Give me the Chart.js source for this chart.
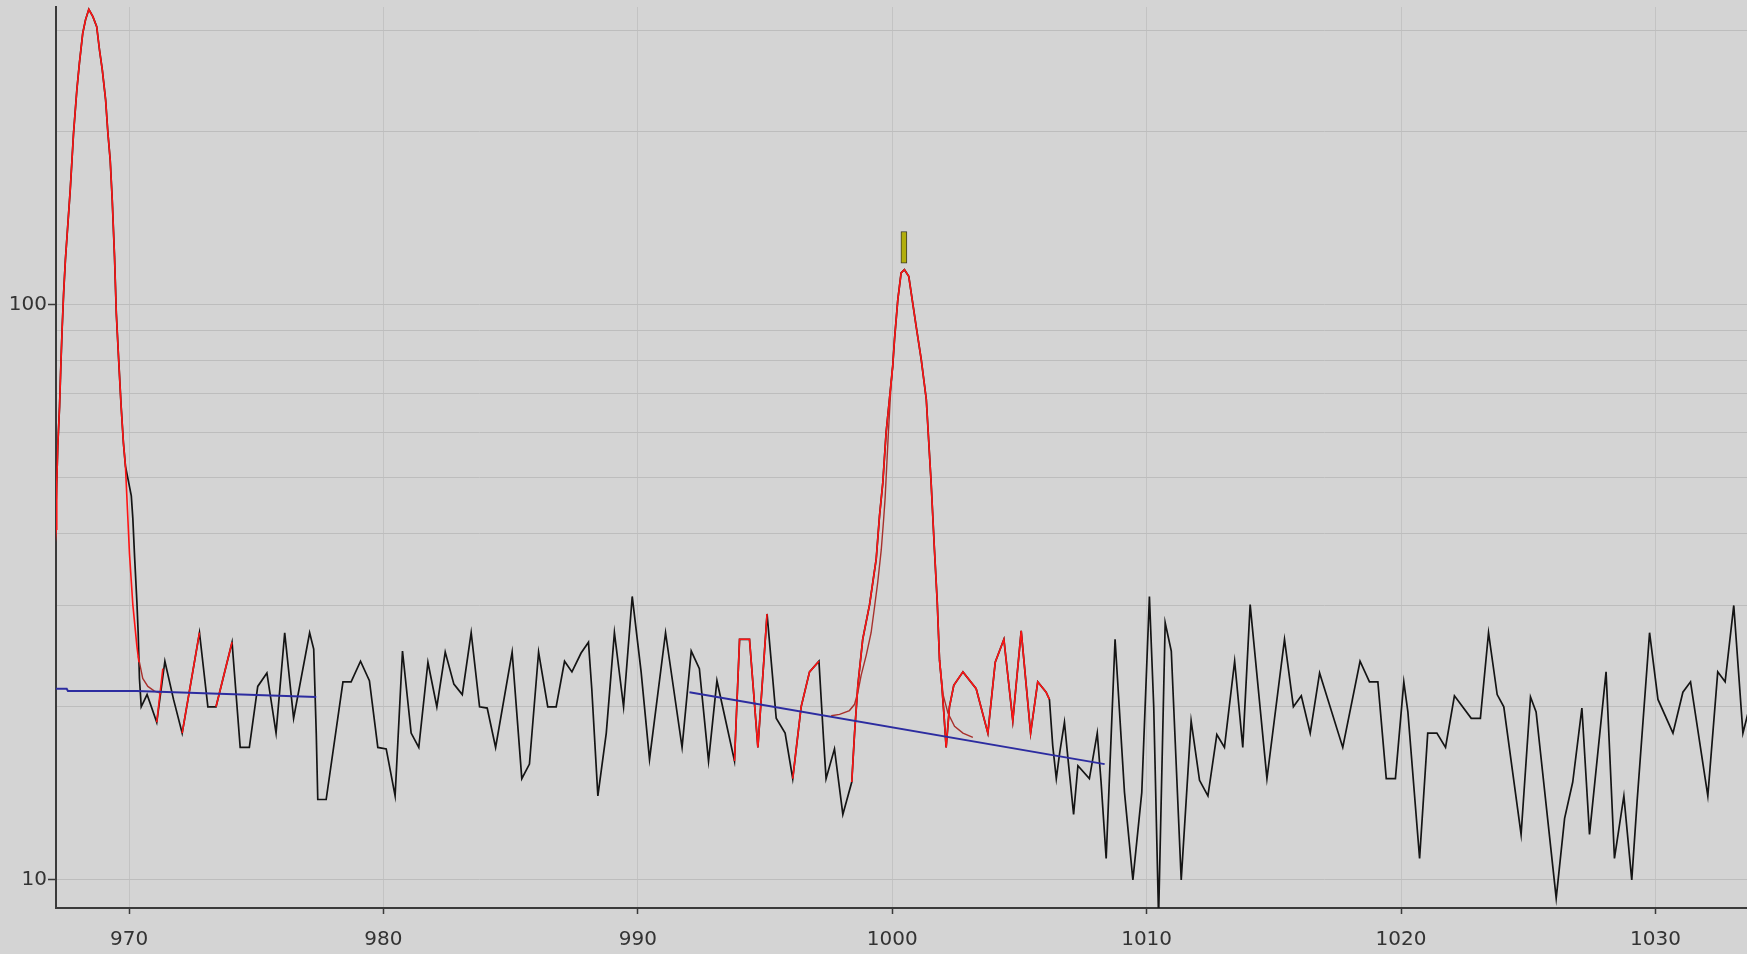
<!DOCTYPE html>
<html>
<head>
<meta charset="utf-8">
<title>Spectrum</title>
<script src="https://cdn.jsdelivr.net/npm/chart.js@4.4.1/dist/chart.umd.min.js"></script>
<style>
  html, body { margin: 0; padding: 0; background: #d4d4d4; }
  #wrap { width: 1747px; height: 954px; }
</style>
</head>
<body>
<div id="wrap"><canvas id="spectrumChart"></canvas></div>
<script>
// Axis range and ticks
const xMin = 967.13;
const xMax = 1033.6;
const yMin = 8.94;
const yMax = 329;
const yGridValues = [10, 20, 30, 40, 50, 60, 70, 80, 90, 100, 200, 300];
const yLabelValues = [10, 100];

// Raw signal (black)
const signalX = [
  967.00, 967.14, 967.20, 967.27, 967.32, 967.37, 967.43, 967.50, 967.59, 967.69,
  967.82, 967.95, 968.05, 968.18, 968.29, 968.42, 968.58, 968.73, 968.84, 968.95,
  969.08, 969.17, 969.26, 969.34, 969.43, 969.50, 969.60, 969.69, 969.78, 969.86,
  970.09, 970.15, 970.22, 970.31, 970.36, 970.41, 970.48, 970.71, 971.09, 971.41,
  971.75, 972.09, 972.77, 973.10, 973.42, 974.05, 974.37, 974.73, 975.06, 975.42,
  975.78, 976.12, 976.47, 977.10, 977.26, 977.36, 977.42, 977.75, 978.41, 978.73,
  979.10, 979.45, 979.78, 980.11, 980.46, 980.75, 981.09, 981.39, 981.75, 982.10,
  982.43, 982.77, 983.10, 983.45, 983.78, 984.08, 984.41, 985.06, 985.44, 985.74,
  986.10, 986.46, 986.79, 987.12, 987.41, 987.77, 988.06, 988.19, 988.43, 988.76,
  989.08, 989.44, 989.78, 990.13, 990.46, 991.09, 991.74, 992.10, 992.42, 992.78,
  993.11, 993.80, 994.00, 994.39, 994.72, 995.08, 995.44, 995.79, 996.09, 996.42,
  996.75, 997.12, 997.30, 997.40, 997.73, 998.06, 998.41, 998.52, 998.65, 998.84,
  999.11, 999.37, 999.50, 999.63, 999.76, 999.89, 1000.02, 1000.09, 1000.22, 1000.35,
  1000.48, 1000.65, 1000.94, 1001.14, 1001.34, 1001.53, 1001.66, 1001.77, 1001.86, 1001.95,
  1002.03, 1002.12, 1002.25, 1002.42, 1002.78, 1003.30, 1003.76, 1004.05, 1004.39, 1004.74,
  1005.07, 1005.44, 1005.72, 1006.05, 1006.18, 1006.31, 1006.45, 1006.58, 1006.77, 1006.90,
  1007.13, 1007.30, 1007.75, 1008.06, 1008.21, 1008.41, 1008.76, 1009.13, 1009.46, 1009.81,
  1010.11, 1010.28, 1010.47, 1010.73, 1010.97, 1011.36, 1011.75, 1012.08, 1012.41, 1012.76,
  1013.06, 1013.46, 1013.78, 1014.07, 1014.73, 1015.42, 1015.77, 1016.08, 1016.43, 1016.80,
  1017.71, 1018.39, 1018.76, 1019.09, 1019.42, 1019.78, 1020.11, 1020.27, 1020.73, 1021.05,
  1021.41, 1021.75, 1022.10, 1022.76, 1023.12, 1023.44, 1023.78, 1024.04, 1024.72, 1025.09,
  1025.31, 1026.10, 1026.43, 1026.75, 1027.11, 1027.41, 1028.06, 1028.39, 1028.76, 1029.07,
  1029.28, 1029.77, 1030.10, 1030.69, 1031.08, 1031.38, 1032.06, 1032.45, 1032.74, 1033.08,
  1033.44, 1033.70
];
const signalY = [
  38, 46, 56.8, 66.6, 78.2, 90.5, 104.8, 119.7, 136.7, 158.4,
  198.7, 236.3, 262.8, 296, 312.5, 326, 316.6, 304.2, 277, 255.9,
  227, 198.7, 178.5, 152.2, 121.3, 96.7, 79.2, 66.6, 57.5, 52.4,
  46.5, 42.5, 36.4, 30.4, 26.9, 22.4, 20.0, 21.0, 18.8, 24.0,
  20.6, 18.0, 26.9, 20.0, 20.0, 25.9, 17.0, 17.0, 21.7, 22.9,
  18.0, 26.9, 19.1, 26.9, 25.2, 18.0, 13.8, 13.8, 22.1, 22.1,
  24.0, 22.2, 17.0, 16.9, 14.0, 25.0, 18.0, 17.0, 23.9, 20.0,
  24.9, 21.9, 21.0, 26.9, 20.0, 19.9, 17.0, 24.9, 15.0, 15.9,
  24.9, 20.0, 20.0, 24.0, 23.0, 24.8, 25.9, 21.5, 14.0, 18.0,
  26.9, 20.0, 31.1, 23.0, 16.2, 26.9, 17.0, 25.0, 23.3, 16.1,
  22.2, 16.1, 26.2, 26.2, 17.0, 29.0, 19.1, 18.0, 15.0, 20.0,
  23.0, 24.0, 17.6, 15.0, 16.9, 13.0, 14.8, 18.0, 21.8, 26.2,
  30.1, 36.1, 42.9, 49.0, 59.9, 68.4, 78.2, 87, 102, 113.5,
  115, 112, 91.7, 80.3, 68.4, 49, 37.5, 30.4, 24.1, 21.8,
  19.5, 17.0, 20.0, 21.8, 23.0, 21.5, 18.0, 23.9, 26.2, 18.9,
  27.1, 18.0, 22.1, 21.2, 20.6, 17.1, 15.0, 16.6, 18.8, 16.4,
  13.0, 15.8, 15.0, 18.0, 14.8, 10.9, 26.2, 14.2, 10.0, 14.2,
  31.1, 20.0, 8.6, 28.0, 25.0, 10.0, 18.9, 14.9, 14.0, 17.9,
  17.0, 24.0, 17.0, 30.1, 15.0, 26.2, 20.0, 20.9, 18.0, 22.9,
  17.0, 24.0, 22.1, 22.1, 15.0, 15.0, 22.1, 19.6, 10.9, 18.0,
  18.0, 17.0, 20.9, 19.1, 19.1, 26.9, 21.0, 20.0, 12.0, 20.8,
  19.6, 9.3, 12.8, 14.8, 19.9, 12.0, 23.0, 10.9, 14.0, 10.0,
  13.7, 26.9, 20.6, 18.0, 21.2, 22.1, 14.0, 23.0, 22.1, 30.0,
  18.0, 20.0
];

// Points inside the two peak windows (red), null = gap
const peakX = [
  967.00, 967.14, 967.16, 967.20, 967.27, 967.32, 967.37, 967.43, 967.50, 967.59,
  967.69, 967.82, 967.95, 968.05, 968.18, 968.29, 968.42, 968.58, 968.73, 968.84,
  968.95, 969.08, 969.17, 969.26, 969.34, 969.43, 969.50, 969.60, 969.69, 969.78,
  969.86, 969.95, 970.02, 970.15, 970.31, 970.39, 970.70, 971.09, 971.33, 971.70,
  972.09, 972.77, 973.10, 973.42, 974.05, 990.00, 993.80, 994.00, 994.39, 994.72,
  995.08, 995.60, 996.09, 996.42, 996.75, 997.12, 997.80, 998.41, 998.52, 998.65,
  998.84, 999.11, 999.37, 999.50, 999.63, 999.76, 999.89, 1000.02, 1000.09, 1000.22,
  1000.35, 1000.48, 1000.65, 1000.94, 1001.14, 1001.34, 1001.53, 1001.66, 1001.77, 1001.86,
  1001.95, 1002.03, 1002.12, 1002.25, 1002.42, 1002.78, 1003.30, 1003.76, 1004.05, 1004.39,
  1004.74, 1005.07, 1005.44, 1005.72, 1006.05, 1006.18
];
const peakY = [
  34, 40.7, 49.0, 56.8, 66.6, 78.2, 90.5, 104.8, 119.7, 136.7,
  158.4, 198.7, 236.3, 262.8, 296, 312.5, 326, 316.6, 304.2, 277,
  255.9, 227, 198.7, 178.5, 152.2, 121.3, 96.7, 79.2, 66.6, 57.5,
  52.4, 42.9, 36.8, 30.1, 25.5, 23.9, null, 18.8, 23.3, null,
  18.0, 26.9, null, 20.0, 25.9, null, 16.1, 26.2, 26.2, 17.0,
  29.0, null, 15.0, 20.0, 23.0, 24.0, null, 14.8, 18.0, 21.8,
  26.2, 30.1, 36.1, 42.9, 49.0, 59.9, 68.4, 78.2, 87, 102,
  113.5, 115, 112, 91.7, 80.3, 68.4, 49, 37.5, 30.4, 24.1,
  21.8, 19.5, 17.0, 20.0, 21.8, 23.0, 21.5, 18.0, 23.9, 26.2,
  18.9, 27.1, 18.0, 22.1, 21.2, 20.6
];

// Fitted peak tails (dark red)
const fitX = [
  970.36, 970.54, 970.74, 971.00, 971.26, 971.50,
  997.60, 997.93, 998.32, 998.52, 998.65, 998.78, 998.98, 999.17, 999.30, 999.43, 999.57, 999.66, 999.72,
  999.85, 999.95, 1000.02,
  1000.50, 1001.86, 1002.00, 1002.19, 1002.45, 1002.78, 1003.17
];
const fitY = [
  24.5, 22.4, 21.7, 21.3, 21.1, null,
  19.3, 19.4, 19.7, 20.2, 21.2, 22.7, 24.6, 26.9, 29.7, 32.9, 37.5, 42.2, 46,
  60, 72, 78.2,
  null, 24.1, 21.0, 19.5, 18.5, 18.0, 17.7
];

// Baselines (blue)
const base1X = [967.00, 967.55, 967.60, 970.30, 977.36];
const base1Y = [21.5, 21.5, 21.3, 21.3, 20.8];
const base2X = [992.03, 1008.35];
const base2Y = [21.2, 15.9];

// Peak marker
const markerX = [1000.46];
const markerLow = [118];
const markerHigh = [134];

function toPoints(xs, ys) {
  return xs.map((x, i) => ({ x: x, y: ys[i] }));
}

const tickFont = { family: "DejaVu Sans", size: 20 };
const axisColor = "#3a3a3a";

const ctx = document.getElementById("spectrumChart").getContext("2d");

new Chart(ctx, {
  type: "line",
  data: {
    datasets: [
      {
        type: "bar",
        label: "Marker",
        data: markerX.map((x, i) => ({ x: x, y: [markerLow[i], markerHigh[i]] })),
        backgroundColor: "#b2ae0c",
        borderColor: "#3a3a2a",
        borderWidth: 1,
        borderSkipped: false,
        barThickness: 6,
      },
      {
        label: "Baseline 1",
        data: toPoints(base1X, base1Y),
        borderColor: "#2c2ca0",
        borderWidth: 2,
      },
      {
        label: "Baseline 2",
        data: toPoints(base2X, base2Y),
        borderColor: "#2c2ca0",
        borderWidth: 2,
      },
      {
        label: "Peak window",
        data: toPoints(peakX, peakY),
        borderColor: "#ff1414",
        borderWidth: 1.6,
      },
      {
        label: "Fit",
        data: toPoints(fitX, fitY),
        borderColor: "#a8302c",
        borderWidth: 1.4,
      },
      {
        label: "Signal",
        data: toPoints(signalX, signalY),
        borderColor: "#141414",
        borderWidth: 1.7,
      },
    ],
  },
  options: {
    responsive: true,
    maintainAspectRatio: false,
    animation: false,
    events: [],
    layout: { padding: { top: 7, right: 0, bottom: 0, left: 0 } },
    elements: {
      point: { radius: 0 },
      line: { tension: 0, fill: false },
    },
    plugins: {
      legend: { display: false },
      tooltip: { enabled: false },
    },
    scales: {
      x: {
        type: "linear",
        min: xMin,
        max: xMax,
        offset: false,
        grid: {
          offset: false,
          color: "#c3c3c3",
          lineWidth: 1,
          tickLength: 6,
          tickColor: axisColor,
          tickWidth: 1.5,
        },
        border: { color: axisColor, width: 2 },
        ticks: {
          stepSize: 10,
          includeBounds: false,
          autoSkip: false,
          maxRotation: 0,
          padding: 14,
          color: "#333333",
          font: tickFont,
          callback: (value) => String(value),
        },
        afterFit: (scale) => {
          scale.height = 46;
          scale.paddingLeft = 0;
          scale.paddingRight = 0;
        },
      },
      y: {
        type: "logarithmic",
        min: yMin,
        max: yMax,
        afterBuildTicks: (scale) => {
          scale.ticks = yGridValues.map(v => ({ value: v }));
        },
        grid: {
          color: "#bdbdbd",
          lineWidth: 1,
          tickLength: 8,
          tickWidth: 1.5,
          tickColor: (c) => (c.tick && yLabelValues.includes(c.tick.value)) ? axisColor : "rgba(0,0,0,0)",
        },
        border: { color: axisColor, width: 2 },
        ticks: {
          autoSkip: false,
          padding: 1,
          color: "#333333",
          font: tickFont,
          callback: (value) => yLabelValues.includes(value) ? String(value) : "",
        },
        afterFit: (scale) => {
          scale.width = 56;
          scale.paddingTop = 0;
          scale.paddingBottom = 0;
        },
      },
    },
  },
});
</script>
</body>
</html>
